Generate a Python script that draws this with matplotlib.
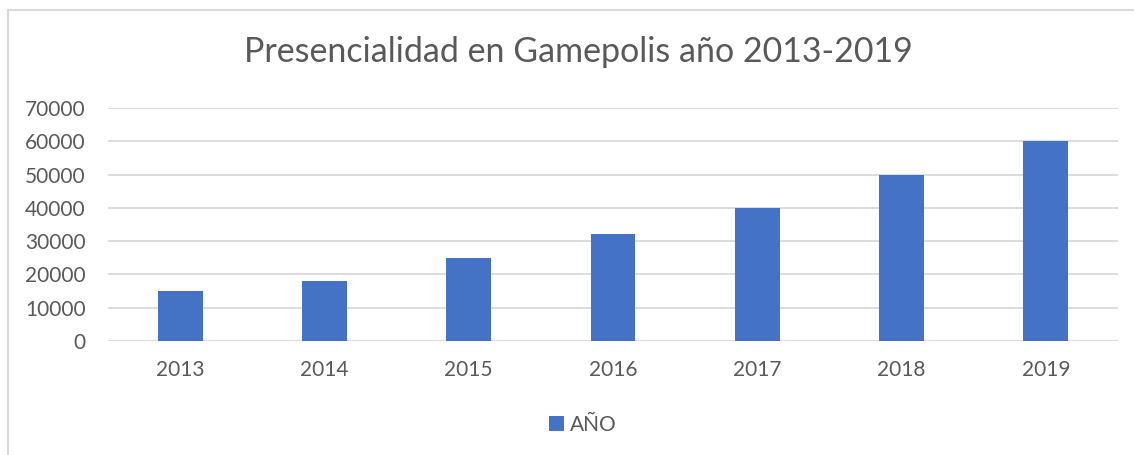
import matplotlib
matplotlib.use("Agg")
import matplotlib.pyplot as plt
from matplotlib.patches import Rectangle

years = ["2013", "2014", "2015", "2016", "2017", "2018", "2019"]
values = [15000, 18000, 25000, 32000, 40000, 50000, 60000]
yticks = [0, 10000, 20000, 30000, 40000, 50000, 60000, 70000]
title = "Presencialidad en Gamepolis año 2013-2019"
series_name = "AÑO"

plt.rcParams['font.family'] = ['Lato', 'DejaVu Sans']
TXT = "#595959"
BLUE = "#4472C4"
GRID = "#D9D9D9"

W, H = 1134, 455
fig = plt.figure(figsize=(W / 100, H / 100), dpi=100)
fig.patch.set_facecolor("white")

# outer chart border
fig.add_artist(Rectangle((8 / W, -0.1), 1.2, 1 - 10 / H + 0.1, transform=fig.transFigure,
                         fill=False, edgecolor=GRID, linewidth=1.5))

ax = fig.add_axes([108 / W, 1 - 341 / H, (1118 - 108) / W, (341 - 108) / H])
x = list(range(len(years)))
ax.bar(x, values, width=0.31, color=BLUE, zorder=3, label=series_name)
ax.set_xlim(-0.5, len(years) - 0.5)
ax.set_ylim(0, 70000)
ax.set_yticks(yticks)
ax.set_yticklabels([str(v) for v in yticks])
ax.set_xticks(x)
ax.set_xticklabels(years)
ax.grid(axis="y", color=GRID, linewidth=1.3, zorder=0)
ax.set_axisbelow(True)
for s in ax.spines.values():
    s.set_visible(False)
ax.tick_params(axis="both", length=0, labelsize=15, labelcolor=TXT)
ax.tick_params(axis="y", pad=16)
ax.tick_params(axis="x", pad=14)

fig.text(578 / W, 1 - 52 / H, title, ha="center", va="center", fontsize=24.5, color=TXT)

leg = fig.legend(loc="center", bbox_to_anchor=(583 / W, 1 - 425 / H), frameon=False,
                 fontsize=15, handlelength=0.7, handleheight=0.7, handletextpad=0.3,
                 labelcolor=TXT)

fig.savefig("out.png", dpi=100, facecolor="white")
